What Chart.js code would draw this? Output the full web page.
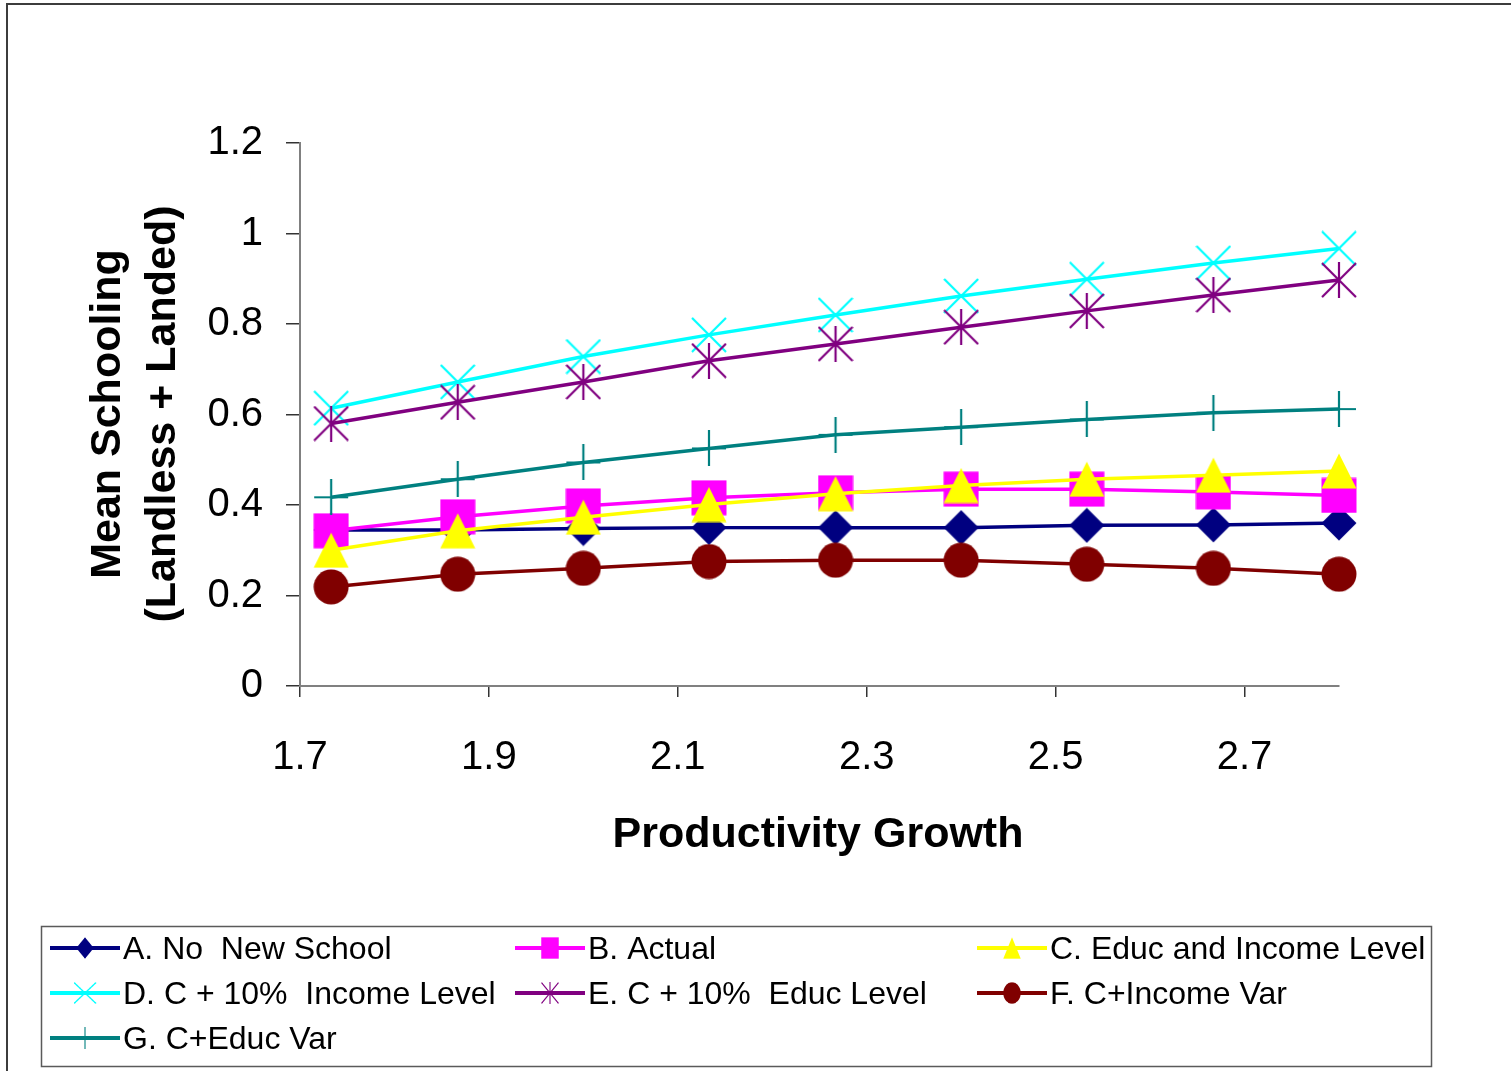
<!DOCTYPE html>
<html>
<head>
<meta charset="utf-8">
<title>Mean Schooling vs Productivity Growth</title>
<script src="https://cdn.jsdelivr.net/npm/chart.js@4.4.1/dist/chart.umd.min.js"></script>
<style>
  html, body { margin: 0; padding: 0; background: #fff; }
  #wrap { position: relative; width: 1511px; height: 1071px; overflow: hidden; }
  #plot { position: absolute; left: 0; top: 0; }
  #frame { position: absolute; left: 6px; top: 3px; width: 1530px; height: 1090px;
           border-top: 2px solid #3c3c3c; border-left: 2px solid #3c3c3c; box-sizing: border-box; pointer-events: none; }
</style>
</head>
<body>
<div id="wrap">
  <canvas id="plot" width="1511" height="1071"></canvas>
  <div id="frame"></div>
</div>
<script>
// Productivity growth values (x) shared by all scenarios
const growth = [1.733, 1.867, 2.0, 2.133, 2.267, 2.4, 2.533, 2.667, 2.8];

// Mean schooling per scenario
const noNewSchool      = [0.345, 0.345, 0.348, 0.350, 0.350, 0.350, 0.355, 0.356, 0.360];
const actual           = [0.343, 0.374, 0.398, 0.416, 0.427, 0.435, 0.435, 0.429, 0.421];
const educIncomeLevel  = [0.300, 0.343, 0.373, 0.401, 0.425, 0.443, 0.457, 0.466, 0.475];
const plusIncomeLevel  = [0.614, 0.672, 0.728, 0.776, 0.820, 0.862, 0.899, 0.935, 0.967];
const plusEducLevel    = [0.580, 0.627, 0.672, 0.719, 0.756, 0.793, 0.829, 0.864, 0.897];
const plusIncomeVar    = [0.219, 0.247, 0.260, 0.275, 0.278, 0.278, 0.269, 0.260, 0.247];
const plusEducVar      = [0.417, 0.457, 0.494, 0.525, 0.555, 0.572, 0.589, 0.604, 0.612];

const seriesLabels = [
  'A. No  New School',
  'B. Actual',
  'C. Educ and Income Level',
  'D. C + 10%  Income Level',
  'E. C + 10%  Educ Level',
  'F. C+Income Var',
  'G. C+Educ Var'
];
const seriesValues = [noNewSchool, actual, educIncomeLevel, plusIncomeLevel, plusEducLevel, plusIncomeVar, plusEducVar];
const seriesColors = ['#000080', '#FF00FF', '#FFFF00', '#00FFFF', '#800080', '#800000', '#008080'];
const seriesMarkers = ['diamond', 'square', 'triangle', 'x', 'star', 'circle', 'plus'];

const xTicks = [1.7, 1.9, 2.1, 2.3, 2.5, 2.7];
const yTicks = [0, 0.2, 0.4, 0.6, 0.8, 1, 1.2];

const xTitle = 'Productivity Growth';
const yTitle = ['Mean Schooling', '(Landless + Landed)'];

const FONT = '"Liberation Sans", Arial, Helvetica, sans-serif';

// Marker glyphs painted on small canvases and used as point styles
function makeMarker(kind, color) {
  const S = 36;
  const c = document.createElement('canvas');
  c.width = S; c.height = S;
  const g = c.getContext('2d');
  g.fillStyle = color; g.strokeStyle = color; g.lineWidth = 2.2;
  const a = 0.5, b = S - 0.5, m = S / 2;
  g.beginPath();
  switch (kind) {
    case 'diamond':
      g.moveTo(m, a); g.lineTo(b, m); g.lineTo(m, b); g.lineTo(a, m); g.closePath(); g.fill(); break;
    case 'square':
      g.fillRect(a, a, b - a, b - a); break;
    case 'triangle':
      g.moveTo(m, a); g.lineTo(b, b); g.lineTo(a, b); g.closePath(); g.fill(); break;
    case 'circle':
      g.arc(m, m, m - 0.5, 0, Math.PI * 2); g.fill(); break;
    case 'x':
      g.moveTo(1, 1); g.lineTo(S - 1, S - 1); g.moveTo(S - 1, 1); g.lineTo(1, S - 1); g.stroke(); break;
    case 'star':
      g.moveTo(1, 1); g.lineTo(S - 1, S - 1); g.moveTo(S - 1, 1); g.lineTo(1, S - 1);
      g.moveTo(m, 0); g.lineTo(m, S); g.stroke(); break;
    case 'plus':
      g.moveTo(m, 0); g.lineTo(m, S); g.moveTo(1, m); g.lineTo(S - 1, m); g.stroke(); break;
  }
  return c;
}

const markerImages = seriesMarkers.map((k, i) => makeMarker(k, seriesColors[i]));

const datasets = seriesLabels.map((label, i) => ({
  label,
  data: growth.map((x, j) => ({ x, y: seriesValues[i][j] })),
  borderColor: seriesColors[i],
  backgroundColor: seriesColors[i],
  borderWidth: 3.5,
  pointStyle: markerImages[i],
  pointRadius: 18,
  pointHoverRadius: 18,
  tension: 0,
  clip: false,
  order: seriesLabels.length - i   // later series paint on top
}));

// Axis titles and the boxed legend
const decorations = {
  id: 'decorations',
  afterDraw(chart) {
    const ctx = chart.ctx;
    ctx.save();
    ctx.fillStyle = '#000';
    ctx.font = 'bold 43px ' + FONT;
    ctx.textAlign = 'center';
    ctx.textBaseline = 'alphabetic';
    ctx.fillText(xTitle, 818, 847);
    const yLineX = [120, 175];
    yTitle.forEach((t, k) => {
      ctx.save();
      ctx.translate(yLineX[k], 414);
      ctx.rotate(-Math.PI / 2);
      ctx.fillText(t, 0, 0);
      ctx.restore();
    });

    // legend frame
    ctx.strokeStyle = '#5a5a5a';
    ctx.lineWidth = 1.5;
    ctx.strokeRect(41.5, 926.5, 1390, 140);

    const colX = [50, 515, 977];
    const rowY = [948, 993, 1038];
    ctx.font = '32px ' + FONT;
    ctx.textAlign = 'left';
    chart.data.datasets.forEach((ds, i) => {
      const x0 = colX[i % 3], y0 = rowY[Math.floor(i / 3)];
      ctx.strokeStyle = ds.borderColor;
      ctx.lineWidth = 4;
      ctx.beginPath();
      ctx.moveTo(x0, y0); ctx.lineTo(x0 + 70, y0);
      ctx.stroke();
      const w = seriesMarkers[i] === 'x' ? 23 : 18, h = 22;
      ctx.drawImage(ds.pointStyle, x0 + 35 - w / 2, y0 - h / 2, w, h);
      ctx.fillStyle = '#000';
      ctx.fillText(ds.label, x0 + 73, y0 + 11);
    });
    ctx.restore();
  }
};

new Chart(document.getElementById('plot'), {
  type: 'line',
  data: { datasets },
  plugins: [decorations],
  options: {
    responsive: false,
    animation: false,
    events: [],
    layout: { padding: { left: 0, right: 172, top: 143, bottom: 0 } },
    plugins: { legend: { display: false }, tooltip: { enabled: false } },
    scales: {
      x: {
        type: 'linear', min: 1.7, max: 2.8,
        afterBuildTicks: s => { s.ticks = xTicks.map(v => ({ value: v })); },
        afterFit: s => { s.height = 385; },
        border: { display: true, color: '#808080', width: 2 },
        grid: { drawOnChartArea: false, drawTicks: true, tickLength: 11, tickColor: '#333', lineWidth: 1.5 },
        ticks: { color: '#000', font: { family: FONT, size: 40 }, padding: 37, maxRotation: 0, autoSkip: false,
                 callback: v => String(v) }
      },
      y: {
        type: 'linear', min: 0, max: 1.2,
        afterBuildTicks: s => { s.ticks = yTicks.map(v => ({ value: v })); },
        afterFit: s => { s.width = 300; },
        border: { display: true, color: '#808080', width: 2 },
        grid: { drawOnChartArea: false, drawTicks: true, tickLength: 14, tickColor: '#333', lineWidth: 1.5 },
        ticks: { color: '#000', font: { family: FONT, size: 40 }, padding: 23, autoSkip: false,
                 callback: v => String(v) }
      }
    }
  }
});
</script>
</body>
</html>
